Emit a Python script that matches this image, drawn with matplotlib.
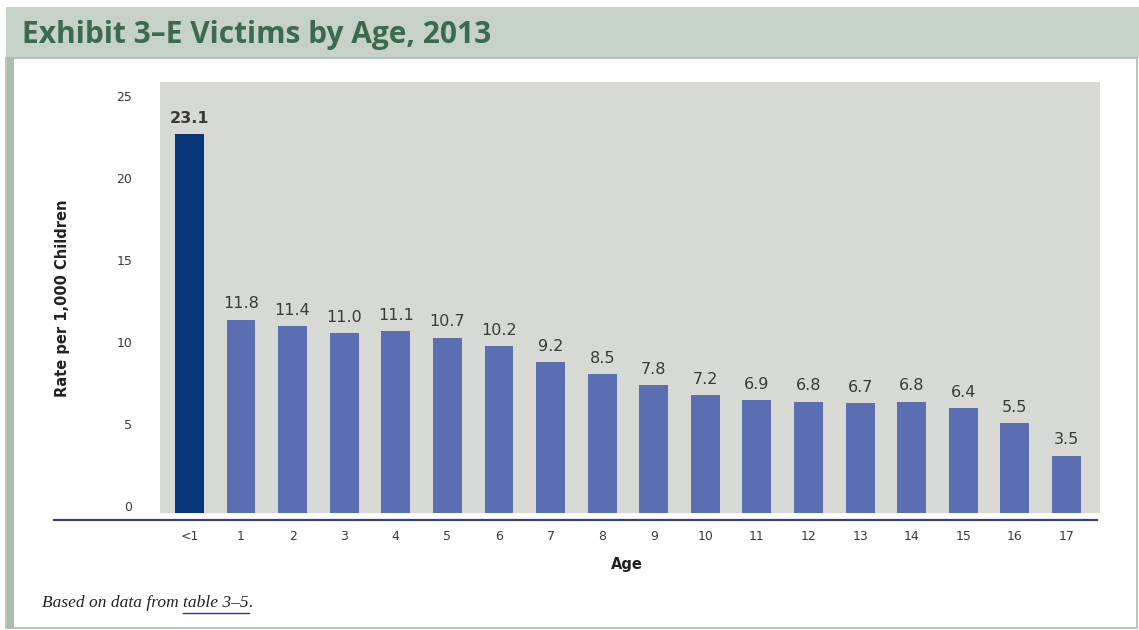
#!/usr/bin/env python3
import numpy as np
import matplotlib
matplotlib.use("Agg")
import matplotlib.pyplot as plt
import matplotlib.transforms as mtransforms
from matplotlib.lines import Line2D
from matplotlib.patches import Rectangle

ages = ["<1", "1", "2", "3", "4", "5", "6", "7", "8", "9", "10",
        "11", "12", "13", "14", "15", "16", "17"]
rates = [23.1, 11.8, 11.4, 11.0, 11.1, 10.7, 10.2, 9.2, 8.5, 7.8, 7.2,
         6.9, 6.8, 6.7, 6.8, 6.4, 5.5, 3.5]
yticks = [0, 5, 10, 15, 20, 25]

navy = "#06357a"
blue = "#5b6db3"
panel = "#d6d9d4"
green_band = "#c6d2c7"
green_side = "#a9bdaa"
title_col = "#3b6a4c"
txt = "#3a3a3a"

fig = plt.figure(figsize=(11.39, 6.30), dpi=100)
W, H = 1139, 630

def fx(x): return x / W
def fy(y): return 1 - y / H

# header band + frame
fig.patches.append(Rectangle((fx(6), fy(58)), fx(1133), 51 / H, transform=fig.transFigure,
                             facecolor=green_band, edgecolor="none", zorder=0))
fig.patches.append(Rectangle((fx(6), fy(628)), fx(1131), 570 / H, transform=fig.transFigure,
                             facecolor="none", edgecolor=green_side, lw=1.2, zorder=0))
fig.patches.append(Rectangle((fx(7), fy(628)), fx(7), 570 / H, transform=fig.transFigure,
                             facecolor=green_side, edgecolor="none", zorder=0))
fig.text(fx(22), fy(35), "Exhibit 3\u2013E Victims by Age, 2013", fontsize=21.5, fontweight="bold",
         color=title_col, va="center", ha="left", family="Open Sans")

ax = fig.add_axes([fx(160), fy(513), 940 / W, 431 / H])
ax.set_facecolor(panel)
x = np.arange(len(ages))
colors = [navy] + [blue] * (len(ages) - 1)
ax.bar(x, rates, width=0.56, color=colors, zorder=2)
for i, v in enumerate(rates):
    ax.text(i, v + 0.5, "{:.1f}".format(v), ha="center", va="bottom", fontsize=11.5,
            color=txt, fontweight="bold" if i == 0 else "normal")

ax.set_xlim(-0.57, 17.65)
ax.set_ylim(0, 26.3)
ax.set_xticks(x, labels=ages)
ax.set_yticks(yticks)
ax.tick_params(length=0, labelsize=9, colors=txt)
ax.tick_params(axis="x", pad=12)
ax.tick_params(axis="y", pad=20)
off = mtransforms.ScaledTranslation(0, 5 / 72, fig.dpi_scale_trans)
for lab in ax.get_yticklabels():
    lab.set_transform(lab.get_transform() + off)
for s in ax.spines.values():
    s.set_visible(False)

fig.lines.append(Line2D([fx(54), fx(1097)], [fy(520), fy(520)], transform=fig.transFigure,
                        color="#3b3f7c", lw=1.6))

fig.text(fx(627), fy(565), "Age", ha="center", va="center", fontsize=10.5, fontweight="bold", color="#222222")
fig.text(fx(62), fy(298), "Rate per 1,000 Children", ha="center", va="center", rotation=90,
         fontsize=10.5, fontweight="bold", color="#222222")

# caption
t1 = fig.text(fx(42), fy(603), "Based on data from ", ha="left", va="center", fontsize=12.5,
              style="italic", family="Liberation Serif", color="#222222")
fig.canvas.draw()
bb = t1.get_window_extent()
t2 = fig.text(bb.x1 / W, fy(603), "table 3\u20135", ha="left", va="center", fontsize=12.5,
              style="italic", family="Liberation Serif", color="#222222")
bb2 = t2.get_window_extent()
fig.text(bb2.x1 / W, fy(603), ".", ha="left", va="center", fontsize=12.5,
         style="italic", family="Liberation Serif", color="#222222")
fig.lines.append(Line2D([bb2.x0 / W, bb2.x1 / W], [fy(613), fy(613)], transform=fig.transFigure,
                        color="#2b3a80", lw=1.0))

fig.savefig("out.png", dpi=100)
